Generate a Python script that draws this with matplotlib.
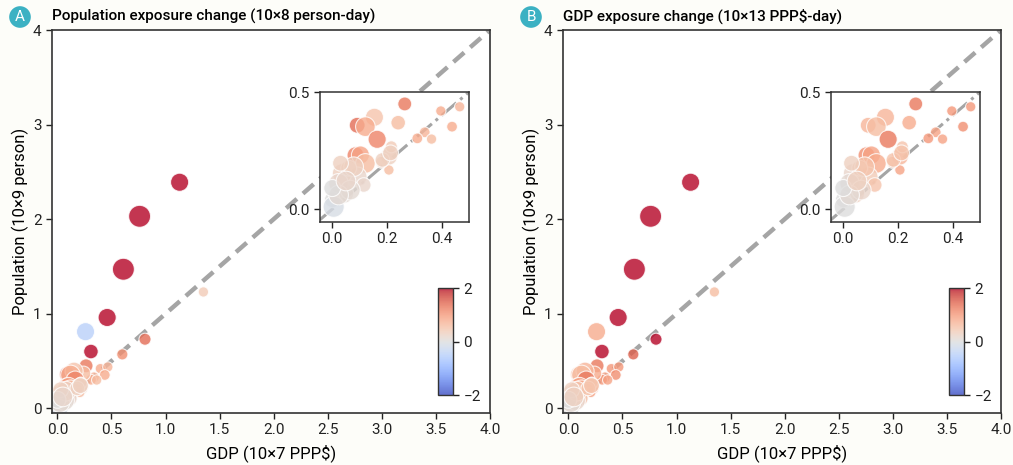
import matplotlib.pyplot as plt
import numpy as np

plt.rcParams["font.family"] = ["Roboto", "DejaVu Sans"]

# points: GDP (10x7 PPP$), Population (10x9 person), marker size, colour value per panel
gdp = [1.13, 0.76, 0.61, 0.46, 0.26, 0.31, 0.81, 1.35, 0.60,
       0.265, 0.397, 0.466, 0.438, 0.338, 0.311, 0.363, 0.241, 0.091,
       0.154, 0.121, 0.164, 0.085, 0.103, 0.121, 0.207, 0.216, 0.207,
       0.180, 0.091, 0.036, 0.115, 0.042, 0.023, 0.060, 0.000, 0.005,
       0.066, 0.023, 0.078, 0.030, 0.183, 0.213, 0.000, 0.050]
pop = [2.39, 2.03, 1.47, 0.96, 0.81, 0.60, 0.73, 1.23, 0.57,
       0.449, 0.419, 0.437, 0.352, 0.328, 0.302, 0.299, 0.369, 0.358,
       0.392, 0.352, 0.298, 0.230, 0.231, 0.195, 0.224, 0.266, 0.167,
       0.200, 0.138, 0.152, 0.103, 0.067, 0.110, 0.175, 0.040, 0.010,
       0.081, 0.060, 0.181, 0.196, 0.210, 0.240, 0.090, 0.120]
sizes = [170, 250, 250, 170, 170, 110, 75, 55, 65,
         100, 55, 55, 60, 60, 60, 55, 110, 130,
         170, 200, 170, 150, 170, 200, 150, 75, 55,
         75, 200, 200, 110, 200, 200, 130, 130, 230,
         200, 200, 200, 130, 110, 130, 150, 200]
pop_change = [2.0, 2.0, 2.0, 2.0, -0.5, 2.0, 1.4, 0.4, 1.1,
              1.3, 0.8, 0.7, 0.8, 0.7, 0.8, 0.6, 0.6, 1.4,
              0.5, 0.8, 1.2, 1.2, 0.9, 0.6, 0.3, 0.4, 0.6,
              0.4, 0.2, 0.3, 0.2, 0.1, 0.2, 0.3, 0.0, -0.1,
              0.1, 0.1, 0.3, 0.3, 0.3, 0.3, 0.0, 0.2]
gdp_change = [2.0, 2.0, 2.0, 2.0, 0.8, 2.0, 2.0, 0.6, 1.5,
              1.3, 1.0, 1.0, 1.1, 0.9, 1.0, 0.9, 0.8, 0.7,
              0.7, 0.6, 1.3, 1.1, 0.9, 0.8, 0.7, 0.5, 0.9,
              0.6, 0.4, 0.2, 0.5, 0.3, 0.1, 0.4, 0.0, 0.0,
              0.2, 0.1, 0.5, 0.3, 0.5, 0.5, 0.0, 0.3]

panels = [
    ("A", "Population exposure change (10×8 person-day)", pop_change),
    ("B", "GDP exposure change (10×13 PPP$-day)", gdp_change),
]

W, H = 1013, 465
fig = plt.figure(figsize=(W / 100, H / 100), dpi=100, facecolor="#fdfdf9")

main_left = [52, 563]
inset_left = [320, 831]
cbar_left = [438, 949]
spine_c = "#333333"


def style(ax, lw=1.2, size=11):
    for s in ax.spines.values():
        s.set_color(spine_c)
        s.set_linewidth(lw)
    ax.tick_params(colors="#222222", labelsize=size, length=4, width=1)


for i, (letter, title, cval) in enumerate(panels):
    x0 = main_left[i]
    ax = fig.add_axes([x0 / W, 52 / H, 438 / W, 383 / H])
    ax.plot([-0.05, 4.0], [-0.05, 4.0], ls="--", color="#a5a5a5", lw=3.2,
            dashes=(3.2, 1.8), zorder=1)
    sc = ax.scatter(gdp, pop, s=sizes, c=cval, cmap="coolwarm", vmin=-2, vmax=2,
                    alpha=0.8, edgecolors="white", linewidths=0.8, zorder=2)
    ax.set_xlim(-0.05, 4.0)
    ax.set_ylim(-0.05, 4.0)
    ax.set_xticks(np.arange(0, 4.01, 0.5))
    ax.set_xticklabels([f"{v:.1f}" for v in np.arange(0, 4.01, 0.5)])
    ax.set_yticks([0, 1, 2, 3, 4])
    ax.set_xlabel("GDP (10×7 PPP$)", fontsize=12, labelpad=5)
    ax.set_ylabel("Population (10×9 person)", fontsize=12, labelpad=3)
    style(ax)
    ax.set_title(title, loc="left", fontsize=11, fontweight="medium", pad=7)

    fig.text((x0 - 32) / W, 1 - 17 / H, letter, color="white", fontsize=11,
             ha="center", va="center",
             bbox=dict(boxstyle="circle,pad=0.25", fc="#3cb1c3", ec="none"))

    # inset zoom near origin
    ins = fig.add_axes([inset_left[i] / W, 243 / H, 149 / W, 130 / H])
    ins.plot([-0.05, 0.5], [-0.05, 0.5], ls="-.", color="#a5a5a5", lw=2.2, zorder=1)
    ins.scatter(gdp, pop, s=sizes, c=cval, cmap="coolwarm", vmin=-2, vmax=2,
                alpha=0.8, edgecolors="white", linewidths=0.8, zorder=2)
    ins.set_xlim(-0.045, 0.5)
    ins.set_ylim(-0.055, 0.5)
    ins.set_xticks([0.0, 0.2, 0.4])
    ins.set_yticks([0.0, 0.5])
    ins.set_xticklabels(["0.0", "0.2", "0.4"])
    ins.set_yticklabels(["0.0", "0.5"])
    style(ins, lw=1.1)

    cax = fig.add_axes([cbar_left[i] / W, 70 / H, 15 / W, 107 / H])
    cb = fig.colorbar(sc, cax=cax, ticks=[-2, 0, 2])
    cb.outline.set_edgecolor(spine_c)
    cb.outline.set_linewidth(1)
    cax.tick_params(labelsize=11, length=4, width=1, colors="#222222")
    cax.set_yticklabels(["\u22122", "0", "2"])

fig.savefig("out.png", dpi=100, facecolor=fig.get_facecolor())
